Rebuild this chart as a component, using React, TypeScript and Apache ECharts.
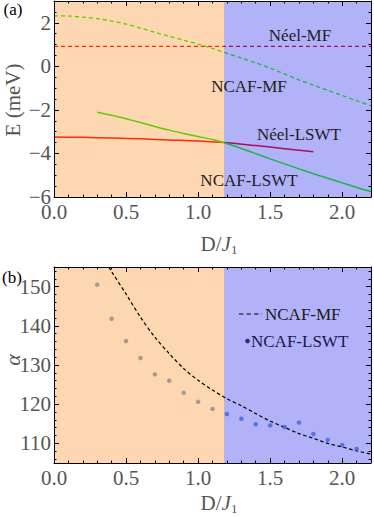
import React, { useEffect, useRef } from 'react';
import * as echarts from 'echarts';

// ---------- data ----------
const phaseBoundary = 1.18;
const xMax = 2.2;

// panel (a): energies
const xNcafMF = [0, 0.1, 0.2, 0.3, 0.4, 0.5, 0.6, 0.7, 0.8, 0.9, 1.0, 1.1, 1.2, 1.3, 1.4, 1.5, 1.6, 1.7, 1.8, 1.9, 2.0, 2.1, 2.2];
const ncafMF = [2.32, 2.31, 2.26, 2.19, 2.08, 1.94, 1.76, 1.56, 1.38, 1.2, 1.02, 0.82, 0.6, 0.38, 0.16, -0.08, -0.35, -0.62, -0.86, -1.1, -1.34, -1.58, -1.81];
const xNeelMF = [0, 2.2];
const neelMF = [0.92, 0.92];
const xNcafLSWT = [0.3, 0.4, 0.5, 0.6, 0.7, 0.8, 0.9, 1.0, 1.1, 1.2, 1.3, 1.4, 1.5, 1.6, 1.7, 1.8, 1.9, 2.0, 2.1, 2.2];
const ncafLSWT = [-2.11, -2.25, -2.41, -2.58, -2.76, -2.93, -3.08, -3.22, -3.36, -3.54, -3.77, -4.01, -4.25, -4.48, -4.71, -4.93, -5.14, -5.35, -5.56, -5.75];
const xNeelLSWT = [0, 0.2, 0.4, 0.6, 0.8, 1.0, 1.2, 1.4, 1.6, 1.8];
const neelLSWT = [-3.24, -3.26, -3.29, -3.33, -3.38, -3.43, -3.51, -3.64, -3.78, -3.92];

// panel (b): angle alpha
const xAlphaMF = [0.38, 0.4, 0.5, 0.6, 0.7, 0.8, 0.9, 1.0, 1.1, 1.2, 1.3, 1.4, 1.5, 1.6, 1.7, 1.8, 1.9, 2.0, 2.1, 2.2];
const alphaMF = [155.0, 153.8, 148.1, 142.2, 137.1, 132.9, 129.1, 126.1, 123.6, 121.4, 119.6, 117.6, 115.7, 114.1, 112.5, 111.3, 110.0, 109.1, 108.1, 107.3];
const xAlphaLSWT = [0.3, 0.4, 0.5, 0.6, 0.7, 0.8, 0.9, 1.0, 1.1, 1.2, 1.3, 1.4, 1.5, 1.6, 1.7, 1.8, 1.9, 2.0, 2.1];
const alphaLSWT = [150.5, 141.8, 136.1, 131.8, 127.6, 126.0, 122.9, 120.6, 118.8, 117.5, 116.3, 114.9, 114.6, 114.2, 115.3, 112.4, 110.9, 109.6, 108.6];

// tick positions for panel (b) y axis (band centres)
const alphaMajorTicks = ['110', '120', '130', '140', '150'];
const alphaMinorTicks = ['106', '108', '110', '112', '114', '116', '118', '120', '122', '124', '126', '128', '130', '132', '134', '136', '138', '140', '142', '144', '146', '148', '150', '152', '154'];

// ---------- style ----------
const FONT = 'Liberation Serif';
const ORANGE_BG = '#fdd7b1';
const BLUE_BG = '#b2b2f9';
const RED_A = '#ff2a0a';
const RED_B = '#a3105e';
const GREEN_A = '#5fcd00';
const GREEN_B = '#1bb34a';
const DOT_A = '#8c8c8c';
const DOT_B = '#4262e0';
const LABEL = '#555555';
const W = 374;
const H = 517;

const pts = (xs: number[], ys: number[]) => xs.map((x, i) => [x, ys[i]]);

const frameLine = { show: true, onZero: false, lineStyle: { color: '#000', width: 1 } };
const noLine = { show: false, onZero: false };
const tick = (len: number) => ({ show: true, inside: true, length: len, lineStyle: { color: '#000', width: 1 } });
const noSplit = { show: false };

const isMult = (v: number, step: number) => Math.abs(v / step - Math.round(v / step)) < 1e-6;

function buildXAxes(g: number) {
  const base = { type: 'value', gridIndex: g, min: 0, max: xMax, splitLine: noSplit, z: 5 };
  return [
    {
      ...base, position: 'bottom', interval: 0.5, axisLine: frameLine, axisTick: tick(5),
      axisLabel: {
        show: true, margin: 4, color: LABEL, fontSize: 21, fontFamily: FONT,
        formatter: (v: number) => (isMult(v, 0.5) ? v.toFixed(1) : ''),
      },
    },
    { ...base, position: 'bottom', interval: 0.1, axisLine: noLine, axisTick: tick(2.5), axisLabel: { show: false } },
    { ...base, position: 'top', interval: 0.5, axisLine: frameLine, axisTick: tick(5), axisLabel: { show: false } },
    { ...base, position: 'top', interval: 0.1, axisLine: noLine, axisTick: tick(2.5), axisLabel: { show: false } },
  ];
}

function buildYAxesA() {
  const base = { type: 'value', gridIndex: 0, min: -6, max: 3, splitLine: noSplit, z: 5 };
  return [
    {
      ...base, position: 'left', interval: 2, axisLine: frameLine, axisTick: tick(5),
      axisLabel: {
        show: true, margin: 3, color: LABEL, fontSize: 21, fontFamily: FONT,
        formatter: (v: number) => (isMult(v, 2) ? (v < 0 ? '\u2212' + Math.abs(v) : String(v)) : ''),
      },
    },
    { ...base, position: 'left', interval: 0.5, axisLine: noLine, axisTick: tick(2.5), axisLabel: { show: false } },
    { ...base, position: 'right', interval: 2, axisLine: frameLine, axisTick: tick(5), axisLabel: { show: false } },
    { ...base, position: 'right', interval: 0.5, axisLine: noLine, axisTick: tick(2.5), axisLabel: { show: false } },
  ];
}

function buildYAxesB() {
  const vbase = { type: 'value', gridIndex: 1, min: 105, max: 155, interval: 5, splitLine: noSplit, z: 5 };
  const cat = (data: string[], position: string, len: number) => ({
    type: 'category', gridIndex: 1, position, data, boundaryGap: true, z: 5,
    axisLine: noLine, splitLine: noSplit,
    axisTick: { ...tick(len), alignWithLabel: true, interval: 0 },
    axisLabel: { show: false, interval: 0 },
  });
  return [
    {
      ...vbase, position: 'left', axisLine: frameLine, axisTick: { show: false },
      axisLabel: {
        show: true, margin: 3, color: LABEL, fontSize: 21, fontFamily: FONT,
        formatter: (v: number) => (isMult(v, 10) ? String(Math.round(v)) : ''),
      },
    },
    cat(alphaMajorTicks, 'left', 5),
    cat(alphaMinorTicks, 'left', 2.5),
    { ...vbase, position: 'right', axisLine: frameLine, axisTick: { show: false }, axisLabel: { show: false } },
    cat(alphaMajorTicks, 'right', 5),
    cat(alphaMinorTicks, 'right', 2.5),
  ];
}

function bgSeries(xi: number, yi: number, ys: number[]) {
  return {
    type: 'line', xAxisIndex: xi, yAxisIndex: yi, z: 1, silent: true,
    data: [[0, ys[0]]], symbol: 'none', showSymbol: false, lineStyle: { opacity: 0 },
    markArea: {
      silent: true,
      data: [
        [{ xAxis: 0, yAxis: ys[0], itemStyle: { color: ORANGE_BG } }, { xAxis: phaseBoundary, yAxis: ys[1] }],
        [{ xAxis: phaseBoundary, yAxis: ys[0], itemStyle: { color: BLUE_BG } }, { xAxis: xMax, yAxis: ys[1] }],
      ],
    },
  };
}

// colour switching at the phase boundary (pixel position computed from the axis)
const split = (bx: number, a: string, b: string) => {
  const f = Math.min(Math.max(bx / W, 0), 1);
  return {
    type: 'linear', x: 0, y: 0, x2: W, y2: 0, global: true,
    colorStops: [
      { offset: 0, color: a }, { offset: f, color: a },
      { offset: f, color: b }, { offset: 1, color: b },
    ],
  };
};

const txt = (text: string, x: number, y: number, extra: any = {}) => ({
  type: 'text', x, y, z: 100,
  style: {
    text, fontSize: 17, fontFamily: FONT, fill: '#1e1e1e',
    align: 'center', verticalAlign: 'middle', textAlign: 'center', textVerticalAlign: 'middle', ...extra,
  },
});

const axisTitleRich = {
  j: { fontStyle: 'italic', fontSize: 21, fontFamily: FONT, fill: LABEL, color: LABEL },
  s: { fontSize: 13, fontFamily: FONT, fill: LABEL, color: LABEL, padding: [11, 0, 0, 0] },
};

function buildOption(bx: number): any {
  return {
    animation: false,
    backgroundColor: '#ffffff',
    textStyle: { fontFamily: FONT },
    grid: [
      { left: 54, top: 1, width: 318, height: 196 },
      { left: 54, top: 267, width: 318, height: 196 },
    ],
    xAxis: [...buildXAxes(0), ...buildXAxes(1)],
    yAxis: [...buildYAxesA(), ...buildYAxesB()],
    series: [
      bgSeries(0, 0, [-6, 3]),
      { name: 'Néel-MF', type: 'line', xAxisIndex: 0, yAxisIndex: 0, z: 3, data: pts(xNeelMF, neelMF), showSymbol: false, symbol: 'none', lineStyle: { width: 1.3, type: [4, 3], color: split(bx, RED_A, RED_B) } },
      { name: 'NCAF-MF', type: 'line', xAxisIndex: 0, yAxisIndex: 0, z: 3, data: pts(xNcafMF, ncafMF), smooth: 0.3, showSymbol: false, symbol: 'none', lineStyle: { width: 1.3, type: [4, 3], color: split(bx, GREEN_A, GREEN_B) } },
      { name: 'Néel-LSWT', type: 'line', xAxisIndex: 0, yAxisIndex: 0, z: 3, data: pts(xNeelLSWT, neelLSWT), smooth: 0.3, showSymbol: false, symbol: 'none', lineStyle: { width: 1.5, color: split(bx, RED_A, RED_B) } },
      { name: 'NCAF-LSWT', type: 'line', xAxisIndex: 0, yAxisIndex: 0, z: 3, data: pts(xNcafLSWT, ncafLSWT), smooth: 0.3, showSymbol: false, symbol: 'none', lineStyle: { width: 1.5, color: split(bx, GREEN_A, GREEN_B) } },
      bgSeries(4, 4, [105, 155]),
      { name: 'NCAF-MF (b)', type: 'line', xAxisIndex: 4, yAxisIndex: 4, z: 3, data: pts(xAlphaMF, alphaMF), smooth: 0.3, showSymbol: false, symbol: 'none', lineStyle: { width: 1.2, color: '#000', type: [3.5, 2.5] } },
      {
        name: 'NCAF-LSWT (b)', type: 'scatter', xAxisIndex: 4, yAxisIndex: 4, z: 3, data: pts(xAlphaLSWT, alphaLSWT), symbol: 'circle', symbolSize: 4.5,
        itemStyle: { color: (p: any) => (p.value[0] < phaseBoundary ? DOT_A : DOT_B) },
      },
    ],
    graphic: [
      txt('(a)', 13, 9, { fill: '#000' }),
      txt('(b)', 12, 277, { fill: '#000' }),
      txt('Néel-MF', 300, 35),
      txt('NCAF-MF', 249, 86),
      txt('Néel-LSWT', 299, 134),
      txt('NCAF-LSWT', 249, 180),
      { ...txt('E (meV)', 13, 100, { fontSize: 21, fill: LABEL }), rotation: Math.PI / 2 },
      { ...txt('\u03b1', 12, 360, { fontSize: 22, fill: LABEL, fontStyle: 'italic' }), rotation: Math.PI / 2 },
      txt('D/{j|J}{s|1}', 219, 244, { fontSize: 21, fill: LABEL, rich: axisTitleRich }),
      txt('D/{j|J}{s|1}', 219, 503, { fontSize: 21, fill: LABEL, rich: axisTitleRich }),
      { type: 'line', z: 100, shape: { x1: 239, y1: 314, x2: 262, y2: 314 }, style: { stroke: '#000', lineWidth: 1.2, lineDash: [4.5, 3] } },
      txt('NCAF-MF', 265, 314, { align: 'left', textAlign: 'left', fill: '#1a1a1a' }),
      { type: 'circle', z: 100, shape: { cx: 247.5, cy: 341, r: 2.3 }, style: { fill: '#2a2a86' } },
      txt('NCAF-LSWT', 251, 341, { align: 'left', textAlign: 'left', fill: '#17174f' }),
    ],
  };
}

export default function App() {
  const ref = useRef<HTMLDivElement>(null);
  useEffect(() => {
    document.body.style.margin = '0';
    if (!ref.current) return;
    const chart = echarts.init(ref.current, undefined, { renderer: 'svg' });
    chart.setOption(buildOption(224));
    const px = chart.convertToPixel({ xAxisIndex: 0 }, phaseBoundary) as unknown as number;
    if (typeof px === 'number' && isFinite(px)) {
      chart.setOption(buildOption(px), { notMerge: true });
    }
    return () => chart.dispose();
  }, []);
  return <div ref={ref} style={{ width: W, height: H }} />;
}
